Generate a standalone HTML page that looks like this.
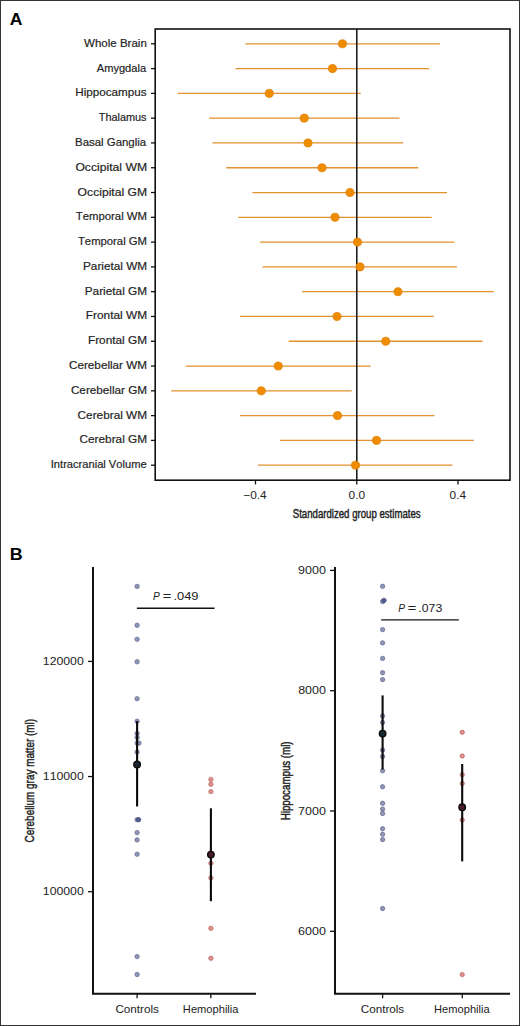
<!DOCTYPE html>
<html><head><meta charset="utf-8"><style>
html,body{margin:0;padding:0;background:#fff}
body{width:520px;height:1026px;overflow:hidden;position:relative}
svg{position:absolute;left:0;top:0;font-family:"Liberation Sans",sans-serif;font-kerning:none}
</style></head><body>
<svg width="520" height="1026" viewBox="0 0 520 1026">
<rect x="0.5" y="0.5" width="519" height="1025" fill="#fff" stroke="#333" stroke-width="1"/>
<line x1="245.5" y1="43.80" x2="440" y2="43.80" stroke="#E3902E" stroke-width="1.3"/>
<line x1="235.5" y1="68.59" x2="429.25" y2="68.59" stroke="#E3902E" stroke-width="1.3"/>
<line x1="177.5" y1="93.38" x2="360.75" y2="93.38" stroke="#E3902E" stroke-width="1.3"/>
<line x1="209.25" y1="118.16" x2="399.5" y2="118.16" stroke="#E3902E" stroke-width="1.3"/>
<line x1="212.5" y1="142.95" x2="403.25" y2="142.95" stroke="#E3902E" stroke-width="1.3"/>
<line x1="226.25" y1="167.74" x2="418.25" y2="167.74" stroke="#E3902E" stroke-width="1.3"/>
<line x1="252.5" y1="192.53" x2="447" y2="192.53" stroke="#E3902E" stroke-width="1.3"/>
<line x1="238.25" y1="217.32" x2="431.75" y2="217.32" stroke="#E3902E" stroke-width="1.3"/>
<line x1="260" y1="242.11" x2="454.5" y2="242.11" stroke="#E3902E" stroke-width="1.3"/>
<line x1="262.5" y1="266.89" x2="457" y2="266.89" stroke="#E3902E" stroke-width="1.3"/>
<line x1="302" y1="291.68" x2="493.75" y2="291.68" stroke="#E3902E" stroke-width="1.3"/>
<line x1="240" y1="316.47" x2="433.75" y2="316.47" stroke="#E3902E" stroke-width="1.3"/>
<line x1="288.75" y1="341.26" x2="482.5" y2="341.26" stroke="#E3902E" stroke-width="1.3"/>
<line x1="185.75" y1="366.05" x2="370.75" y2="366.05" stroke="#E3902E" stroke-width="1.3"/>
<line x1="171.25" y1="390.84" x2="351.75" y2="390.84" stroke="#E3902E" stroke-width="1.3"/>
<line x1="240" y1="415.62" x2="434.5" y2="415.62" stroke="#E3902E" stroke-width="1.3"/>
<line x1="280" y1="440.41" x2="473.75" y2="440.41" stroke="#E3902E" stroke-width="1.3"/>
<line x1="258" y1="465.20" x2="452.5" y2="465.20" stroke="#E3902E" stroke-width="1.3"/>
<line x1="356.8" y1="29.0" x2="356.8" y2="480.2" stroke="#111" stroke-width="1.5"/>
<circle cx="342.5" cy="43.80" r="4.05" fill="#F08C00" stroke="#DD7D00" stroke-width="0.7"/>
<circle cx="332.5" cy="68.59" r="4.05" fill="#F08C00" stroke="#DD7D00" stroke-width="0.7"/>
<circle cx="269.25" cy="93.38" r="4.05" fill="#F08C00" stroke="#DD7D00" stroke-width="0.7"/>
<circle cx="304.25" cy="118.16" r="4.05" fill="#F08C00" stroke="#DD7D00" stroke-width="0.7"/>
<circle cx="308" cy="142.95" r="4.05" fill="#F08C00" stroke="#DD7D00" stroke-width="0.7"/>
<circle cx="322" cy="167.74" r="4.05" fill="#F08C00" stroke="#DD7D00" stroke-width="0.7"/>
<circle cx="350" cy="192.53" r="4.05" fill="#F08C00" stroke="#DD7D00" stroke-width="0.7"/>
<circle cx="335" cy="217.32" r="4.05" fill="#F08C00" stroke="#DD7D00" stroke-width="0.7"/>
<circle cx="357.5" cy="242.11" r="4.05" fill="#F08C00" stroke="#DD7D00" stroke-width="0.7"/>
<circle cx="360" cy="266.89" r="4.05" fill="#F08C00" stroke="#DD7D00" stroke-width="0.7"/>
<circle cx="398" cy="291.68" r="4.05" fill="#F08C00" stroke="#DD7D00" stroke-width="0.7"/>
<circle cx="337" cy="316.47" r="4.05" fill="#F08C00" stroke="#DD7D00" stroke-width="0.7"/>
<circle cx="385.75" cy="341.26" r="4.05" fill="#F08C00" stroke="#DD7D00" stroke-width="0.7"/>
<circle cx="278.25" cy="366.05" r="4.05" fill="#F08C00" stroke="#DD7D00" stroke-width="0.7"/>
<circle cx="261.25" cy="390.84" r="4.05" fill="#F08C00" stroke="#DD7D00" stroke-width="0.7"/>
<circle cx="337.5" cy="415.62" r="4.05" fill="#F08C00" stroke="#DD7D00" stroke-width="0.7"/>
<circle cx="376.5" cy="440.41" r="4.05" fill="#F08C00" stroke="#DD7D00" stroke-width="0.7"/>
<circle cx="355.5" cy="465.20" r="4.05" fill="#F08C00" stroke="#DD7D00" stroke-width="0.7"/>
<rect x="155.2" y="29.0" width="354.8" height="451.2" fill="none" stroke="#111" stroke-width="1.6"/>
<line x1="151.0" y1="43.80" x2="155.2" y2="43.80" stroke="#111" stroke-width="1.3"/>
<text x="84.05" y="46.80" font-size="11.5" font-weight="normal" font-style="normal" textLength="62.80" lengthAdjust="spacingAndGlyphs" fill="#222" stroke="#2a2a2a" stroke-width="0.2">Whole Brain</text>
<line x1="151.0" y1="68.59" x2="155.2" y2="68.59" stroke="#111" stroke-width="1.3"/>
<text x="96.78" y="71.59" font-size="11.5" font-weight="normal" font-style="normal" textLength="49.32" lengthAdjust="spacingAndGlyphs" fill="#222" stroke="#2a2a2a" stroke-width="0.2">Amygdala</text>
<line x1="151.0" y1="93.38" x2="155.2" y2="93.38" stroke="#111" stroke-width="1.3"/>
<text x="75.24" y="96.38" font-size="11.5" font-weight="normal" font-style="normal" textLength="71.28" lengthAdjust="spacingAndGlyphs" fill="#222" stroke="#2a2a2a" stroke-width="0.2">Hippocampus</text>
<line x1="151.0" y1="118.16" x2="155.2" y2="118.16" stroke="#111" stroke-width="1.3"/>
<text x="98.76" y="121.16" font-size="11.5" font-weight="normal" font-style="normal" textLength="47.74" lengthAdjust="spacingAndGlyphs" fill="#222" stroke="#2a2a2a" stroke-width="0.2">Thalamus</text>
<line x1="151.0" y1="142.95" x2="155.2" y2="142.95" stroke="#111" stroke-width="1.3"/>
<text x="75.06" y="145.95" font-size="11.5" font-weight="normal" font-style="normal" textLength="71.04" lengthAdjust="spacingAndGlyphs" fill="#222" stroke="#2a2a2a" stroke-width="0.2">Basal Ganglia</text>
<line x1="151.0" y1="167.74" x2="155.2" y2="167.74" stroke="#111" stroke-width="1.3"/>
<text x="75.42" y="170.74" font-size="11.5" font-weight="normal" font-style="normal" textLength="71.67" lengthAdjust="spacingAndGlyphs" fill="#222" stroke="#2a2a2a" stroke-width="0.2">Occipital WM</text>
<line x1="151.0" y1="192.53" x2="155.2" y2="192.53" stroke="#111" stroke-width="1.3"/>
<text x="77.63" y="195.53" font-size="11.5" font-weight="normal" font-style="normal" textLength="69.47" lengthAdjust="spacingAndGlyphs" fill="#222" stroke="#2a2a2a" stroke-width="0.2">Occipital GM</text>
<line x1="151.0" y1="217.32" x2="155.2" y2="217.32" stroke="#111" stroke-width="1.3"/>
<text x="75.74" y="220.32" font-size="11.5" font-weight="normal" font-style="normal" textLength="71.29" lengthAdjust="spacingAndGlyphs" fill="#222" stroke="#2a2a2a" stroke-width="0.2">Temporal WM</text>
<line x1="151.0" y1="242.11" x2="155.2" y2="242.11" stroke="#111" stroke-width="1.3"/>
<text x="77.95" y="245.11" font-size="11.5" font-weight="normal" font-style="normal" textLength="69.08" lengthAdjust="spacingAndGlyphs" fill="#222" stroke="#2a2a2a" stroke-width="0.2">Temporal GM</text>
<line x1="151.0" y1="266.89" x2="155.2" y2="266.89" stroke="#111" stroke-width="1.3"/>
<text x="83.04" y="269.89" font-size="11.5" font-weight="normal" font-style="normal" textLength="64.03" lengthAdjust="spacingAndGlyphs" fill="#222" stroke="#2a2a2a" stroke-width="0.2">Parietal WM</text>
<line x1="151.0" y1="291.68" x2="155.2" y2="291.68" stroke="#111" stroke-width="1.3"/>
<text x="84.73" y="294.68" font-size="11.5" font-weight="normal" font-style="normal" textLength="62.34" lengthAdjust="spacingAndGlyphs" fill="#222" stroke="#2a2a2a" stroke-width="0.2">Parietal GM</text>
<line x1="151.0" y1="316.47" x2="155.2" y2="316.47" stroke="#111" stroke-width="1.3"/>
<text x="85.73" y="319.47" font-size="11.5" font-weight="normal" font-style="normal" textLength="61.35" lengthAdjust="spacingAndGlyphs" fill="#222" stroke="#2a2a2a" stroke-width="0.2">Frontal WM</text>
<line x1="151.0" y1="341.26" x2="155.2" y2="341.26" stroke="#111" stroke-width="1.3"/>
<text x="87.93" y="344.26" font-size="11.5" font-weight="normal" font-style="normal" textLength="59.14" lengthAdjust="spacingAndGlyphs" fill="#222" stroke="#2a2a2a" stroke-width="0.2">Frontal GM</text>
<line x1="151.0" y1="366.05" x2="155.2" y2="366.05" stroke="#111" stroke-width="1.3"/>
<text x="69.01" y="369.05" font-size="11.5" font-weight="normal" font-style="normal" textLength="78.05" lengthAdjust="spacingAndGlyphs" fill="#222" stroke="#2a2a2a" stroke-width="0.2">Cerebellar WM</text>
<line x1="151.0" y1="390.84" x2="155.2" y2="390.84" stroke="#111" stroke-width="1.3"/>
<text x="70.91" y="393.84" font-size="11.5" font-weight="normal" font-style="normal" textLength="76.16" lengthAdjust="spacingAndGlyphs" fill="#222" stroke="#2a2a2a" stroke-width="0.2">Cerebellar GM</text>
<line x1="151.0" y1="415.62" x2="155.2" y2="415.62" stroke="#111" stroke-width="1.3"/>
<text x="77.60" y="418.62" font-size="11.5" font-weight="normal" font-style="normal" textLength="69.47" lengthAdjust="spacingAndGlyphs" fill="#222" stroke="#2a2a2a" stroke-width="0.2">Cerebral WM</text>
<line x1="151.0" y1="440.41" x2="155.2" y2="440.41" stroke="#111" stroke-width="1.3"/>
<text x="79.50" y="443.41" font-size="11.5" font-weight="normal" font-style="normal" textLength="67.57" lengthAdjust="spacingAndGlyphs" fill="#222" stroke="#2a2a2a" stroke-width="0.2">Cerebral GM</text>
<line x1="151.0" y1="465.20" x2="155.2" y2="465.20" stroke="#111" stroke-width="1.3"/>
<text x="50.77" y="468.20" font-size="11.5" font-weight="normal" font-style="normal" textLength="95.82" lengthAdjust="spacingAndGlyphs" fill="#222" stroke="#2a2a2a" stroke-width="0.2">Intracranial Volume</text>
<line x1="255.5" y1="480.2" x2="255.5" y2="484.4" stroke="#111" stroke-width="1.3"/>
<line x1="356.8" y1="480.2" x2="356.8" y2="484.4" stroke="#111" stroke-width="1.3"/>
<line x1="458.0" y1="480.2" x2="458.0" y2="484.4" stroke="#111" stroke-width="1.3"/>
<text x="243.32" y="498.80" font-size="11" font-weight="normal" font-style="normal" textLength="23.33" lengthAdjust="spacingAndGlyphs" fill="#222">−0.4</text>
<text x="348.54" y="498.80" font-size="11" font-weight="normal" font-style="normal" textLength="16.53" lengthAdjust="spacingAndGlyphs" fill="#222">0.0</text>
<text x="449.64" y="498.80" font-size="11" font-weight="normal" font-style="normal" textLength="16.41" lengthAdjust="spacingAndGlyphs" fill="#222">0.4</text>
<text x="292.76" y="518.40" font-size="13.3" font-weight="normal" font-style="normal" textLength="127.88" lengthAdjust="spacingAndGlyphs" fill="#222" stroke="#222" stroke-width="0.45">Standardized group estimates</text>
<text x="9.76" y="24.70" font-size="16.5" font-weight="bold" font-style="normal" textLength="12.70" lengthAdjust="spacingAndGlyphs" fill="#000">A</text>
<text x="9.80" y="559.80" font-size="16.5" font-weight="bold" font-style="normal" textLength="12.91" lengthAdjust="spacingAndGlyphs" fill="#000">B</text>
<path d="M93 567 V993.8 H256" fill="none" stroke="#111" stroke-width="2"/>
<path d="M335 567 V993.8 H510" fill="none" stroke="#111" stroke-width="2"/>
<line x1="88.0" y1="661.4" x2="93" y2="661.4" stroke="#111" stroke-width="1.3"/>
<text x="42.87" y="665.00" font-size="11" font-weight="normal" font-style="normal" textLength="40.91" lengthAdjust="spacingAndGlyphs" fill="#222">120000</text>
<line x1="88.0" y1="776.55" x2="93" y2="776.55" stroke="#111" stroke-width="1.3"/>
<text x="42.87" y="780.15" font-size="11" font-weight="normal" font-style="normal" textLength="40.91" lengthAdjust="spacingAndGlyphs" fill="#222">110000</text>
<line x1="88.0" y1="891.7" x2="93" y2="891.7" stroke="#111" stroke-width="1.3"/>
<text x="42.87" y="895.30" font-size="11" font-weight="normal" font-style="normal" textLength="40.91" lengthAdjust="spacingAndGlyphs" fill="#222">100000</text>
<line x1="330.0" y1="570.4" x2="335" y2="570.4" stroke="#111" stroke-width="1.3"/>
<text x="298.11" y="574.00" font-size="11" font-weight="normal" font-style="normal" textLength="27.77" lengthAdjust="spacingAndGlyphs" fill="#222">9000</text>
<line x1="330.0" y1="690.7" x2="335" y2="690.7" stroke="#111" stroke-width="1.3"/>
<text x="298.16" y="694.30" font-size="11" font-weight="normal" font-style="normal" textLength="27.73" lengthAdjust="spacingAndGlyphs" fill="#222">8000</text>
<line x1="330.0" y1="811.0" x2="335" y2="811.0" stroke="#111" stroke-width="1.3"/>
<text x="298.06" y="814.60" font-size="11" font-weight="normal" font-style="normal" textLength="27.83" lengthAdjust="spacingAndGlyphs" fill="#222">7000</text>
<line x1="330.0" y1="931.3" x2="335" y2="931.3" stroke="#111" stroke-width="1.3"/>
<text x="298.06" y="934.90" font-size="11" font-weight="normal" font-style="normal" textLength="27.82" lengthAdjust="spacingAndGlyphs" fill="#222">6000</text>
<line x1="137.1" y1="993.8" x2="137.1" y2="998.3" stroke="#111" stroke-width="1.3"/>
<line x1="210.8" y1="993.8" x2="210.8" y2="998.3" stroke="#111" stroke-width="1.3"/>
<line x1="382.6" y1="993.8" x2="382.6" y2="998.3" stroke="#111" stroke-width="1.3"/>
<line x1="462.3" y1="993.8" x2="462.3" y2="998.3" stroke="#111" stroke-width="1.3"/>
<text x="115.41" y="1012.90" font-size="11" font-weight="normal" font-style="normal" textLength="43.52" lengthAdjust="spacingAndGlyphs" fill="#222">Controls</text>
<text x="182.89" y="1012.90" font-size="11" font-weight="normal" font-style="normal" textLength="55.61" lengthAdjust="spacingAndGlyphs" fill="#222">Hemophilia</text>
<text x="360.71" y="1012.90" font-size="11" font-weight="normal" font-style="normal" textLength="43.52" lengthAdjust="spacingAndGlyphs" fill="#222">Controls</text>
<text x="434.09" y="1012.90" font-size="11" font-weight="normal" font-style="normal" textLength="55.61" lengthAdjust="spacingAndGlyphs" fill="#222">Hemophilia</text>
<text transform="rotate(-90)" x="-842.40" y="34.40" font-size="13.2" font-weight="normal" textLength="123.52" lengthAdjust="spacingAndGlyphs" fill="#222" stroke="#222" stroke-width="0.45">Cerebellum gray matter (ml)</text>
<text transform="rotate(-90)" x="-820.30" y="289.70" font-size="12.9" font-weight="normal" textLength="78.90" lengthAdjust="spacingAndGlyphs" fill="#222" stroke="#222" stroke-width="0.45">Hippocampus (ml)</text>
<line x1="136.9" y1="608.2" x2="214.6" y2="608.2" stroke="#111" stroke-width="1.4"/>
<line x1="381.2" y1="619.9" x2="458.8" y2="619.9" stroke="#111" stroke-width="1.4"/>
<text x="153.09" y="600.30" font-size="11" font-weight="normal" font-style="italic" textLength="6.78" lengthAdjust="spacingAndGlyphs" fill="#222">P</text>
<text x="162.78" y="600.30" font-size="11" font-weight="normal" font-style="normal" textLength="8.65" lengthAdjust="spacingAndGlyphs" fill="#222">=</text>
<text x="173.42" y="600.30" font-size="11" font-weight="normal" font-style="normal" textLength="25.09" lengthAdjust="spacingAndGlyphs" fill="#222">.049</text>
<text x="398.19" y="612.10" font-size="11" font-weight="normal" font-style="italic" textLength="6.78" lengthAdjust="spacingAndGlyphs" fill="#222">P</text>
<text x="407.88" y="612.10" font-size="11" font-weight="normal" font-style="normal" textLength="8.65" lengthAdjust="spacingAndGlyphs" fill="#222">=</text>
<text x="418.38" y="612.10" font-size="11" font-weight="normal" font-style="normal" textLength="23.86" lengthAdjust="spacingAndGlyphs" fill="#222">.073</text>
<circle cx="137.1" cy="586.4" r="2.2" fill="#8890b4" stroke="#5c6387" stroke-width="0.7" opacity="0.95"/>
<circle cx="137.1" cy="625.3" r="2.2" fill="#8890b4" stroke="#5c6387" stroke-width="0.7" opacity="0.95"/>
<circle cx="137.1" cy="639.3" r="2.2" fill="#8890b4" stroke="#5c6387" stroke-width="0.7" opacity="0.95"/>
<circle cx="137.1" cy="661.8" r="2.2" fill="#8890b4" stroke="#5c6387" stroke-width="0.7" opacity="0.95"/>
<circle cx="137.1" cy="698.7" r="2.2" fill="#8890b4" stroke="#5c6387" stroke-width="0.7" opacity="0.95"/>
<circle cx="137.1" cy="721.3" r="2.2" fill="#8890b4" stroke="#5c6387" stroke-width="0.7" opacity="0.95"/>
<circle cx="137.1" cy="733.4" r="2.2" fill="#8890b4" stroke="#5c6387" stroke-width="0.7" opacity="0.95"/>
<circle cx="137.1" cy="737.5" r="2.2" fill="#8890b4" stroke="#5c6387" stroke-width="0.7" opacity="0.95"/>
<circle cx="137.1" cy="743.1" r="2.2" fill="#8890b4" stroke="#5c6387" stroke-width="0.7" opacity="0.95"/>
<circle cx="139" cy="743.1" r="2.2" fill="#8890b4" stroke="#5c6387" stroke-width="0.7" opacity="0.95"/>
<circle cx="137.1" cy="752.1" r="2.2" fill="#8890b4" stroke="#5c6387" stroke-width="0.7" opacity="0.95"/>
<circle cx="137.1" cy="819.7" r="2.2" fill="#8890b4" stroke="#5c6387" stroke-width="0.7" opacity="0.95"/>
<circle cx="138.6" cy="819.7" r="2.2" fill="#4f5a8a" stroke="#3c4670" stroke-width="0.7" opacity="0.95"/>
<circle cx="137.1" cy="832.6" r="2.2" fill="#8890b4" stroke="#5c6387" stroke-width="0.7" opacity="0.95"/>
<circle cx="137.1" cy="839.9" r="2.2" fill="#8890b4" stroke="#5c6387" stroke-width="0.7" opacity="0.95"/>
<circle cx="137.1" cy="854.2" r="2.2" fill="#8890b4" stroke="#5c6387" stroke-width="0.7" opacity="0.95"/>
<circle cx="137.1" cy="956.6" r="2.2" fill="#8890b4" stroke="#5c6387" stroke-width="0.7" opacity="0.95"/>
<circle cx="137.1" cy="974.5" r="2.2" fill="#8890b4" stroke="#5c6387" stroke-width="0.7" opacity="0.95"/>
<circle cx="210.9" cy="779.4" r="2.2" fill="#de8b85" stroke="#b3625d" stroke-width="0.7" opacity="0.95"/>
<circle cx="210.9" cy="784.3" r="2.2" fill="#de8b85" stroke="#b3625d" stroke-width="0.7" opacity="0.95"/>
<circle cx="210.9" cy="791.6" r="2.2" fill="#de8b85" stroke="#b3625d" stroke-width="0.7" opacity="0.95"/>
<circle cx="210.9" cy="863.3" r="2.2" fill="#de8b85" stroke="#b3625d" stroke-width="0.7" opacity="0.95"/>
<circle cx="210.9" cy="877.9" r="2.2" fill="#de8b85" stroke="#b3625d" stroke-width="0.7" opacity="0.95"/>
<circle cx="210.9" cy="928.3" r="2.2" fill="#de8b85" stroke="#b3625d" stroke-width="0.7" opacity="0.95"/>
<circle cx="210.9" cy="958.3" r="2.2" fill="#de8b85" stroke="#b3625d" stroke-width="0.7" opacity="0.95"/>
<circle cx="382.6" cy="586.3" r="2.2" fill="#8890b4" stroke="#5c6387" stroke-width="0.7" opacity="0.95"/>
<circle cx="382.6" cy="601.6" r="2.2" fill="#8890b4" stroke="#5c6387" stroke-width="0.7" opacity="0.95"/>
<circle cx="384.0" cy="600.4" r="2.2" fill="#4f5a8a" stroke="#3c4670" stroke-width="0.7" opacity="0.95"/>
<circle cx="382.6" cy="629.6" r="2.2" fill="#8890b4" stroke="#5c6387" stroke-width="0.7" opacity="0.95"/>
<circle cx="382.6" cy="642.9" r="2.2" fill="#8890b4" stroke="#5c6387" stroke-width="0.7" opacity="0.95"/>
<circle cx="382.6" cy="658.4" r="2.2" fill="#8890b4" stroke="#5c6387" stroke-width="0.7" opacity="0.95"/>
<circle cx="382.6" cy="672.7" r="2.2" fill="#8890b4" stroke="#5c6387" stroke-width="0.7" opacity="0.95"/>
<circle cx="382.6" cy="679.6" r="2.2" fill="#8890b4" stroke="#5c6387" stroke-width="0.7" opacity="0.95"/>
<circle cx="382.6" cy="715.9" r="2.2" fill="#8890b4" stroke="#5c6387" stroke-width="0.7" opacity="0.95"/>
<circle cx="382.6" cy="722.5" r="2.2" fill="#8890b4" stroke="#5c6387" stroke-width="0.7" opacity="0.95"/>
<circle cx="382.6" cy="750.1" r="2.2" fill="#8890b4" stroke="#5c6387" stroke-width="0.7" opacity="0.95"/>
<circle cx="382.6" cy="756.5" r="2.2" fill="#8890b4" stroke="#5c6387" stroke-width="0.7" opacity="0.95"/>
<circle cx="382.6" cy="770.7" r="2.2" fill="#8890b4" stroke="#5c6387" stroke-width="0.7" opacity="0.95"/>
<circle cx="382.6" cy="786.8" r="2.2" fill="#8890b4" stroke="#5c6387" stroke-width="0.7" opacity="0.95"/>
<circle cx="382.6" cy="803.3" r="2.2" fill="#8890b4" stroke="#5c6387" stroke-width="0.7" opacity="0.95"/>
<circle cx="382.6" cy="809.1" r="2.2" fill="#8890b4" stroke="#5c6387" stroke-width="0.7" opacity="0.95"/>
<circle cx="382.6" cy="813.5" r="2.2" fill="#8890b4" stroke="#5c6387" stroke-width="0.7" opacity="0.95"/>
<circle cx="382.6" cy="828.7" r="2.2" fill="#8890b4" stroke="#5c6387" stroke-width="0.7" opacity="0.95"/>
<circle cx="382.6" cy="834.3" r="2.2" fill="#8890b4" stroke="#5c6387" stroke-width="0.7" opacity="0.95"/>
<circle cx="382.6" cy="839.6" r="2.2" fill="#8890b4" stroke="#5c6387" stroke-width="0.7" opacity="0.95"/>
<circle cx="382.6" cy="908.5" r="2.2" fill="#8890b4" stroke="#5c6387" stroke-width="0.7" opacity="0.95"/>
<circle cx="462.2" cy="732.3" r="2.2" fill="#de8b85" stroke="#b3625d" stroke-width="0.7" opacity="0.95"/>
<circle cx="462.2" cy="756" r="2.2" fill="#de8b85" stroke="#b3625d" stroke-width="0.7" opacity="0.95"/>
<circle cx="462.2" cy="774.7" r="2.2" fill="#de8b85" stroke="#b3625d" stroke-width="0.7" opacity="0.95"/>
<circle cx="462.2" cy="783.5" r="2.2" fill="#de8b85" stroke="#b3625d" stroke-width="0.7" opacity="0.95"/>
<circle cx="462.2" cy="807.2" r="2.2" fill="#de8b85" stroke="#b3625d" stroke-width="0.7" opacity="0.95"/>
<circle cx="462.2" cy="820" r="2.2" fill="#de8b85" stroke="#b3625d" stroke-width="0.7" opacity="0.95"/>
<circle cx="462.2" cy="974.6" r="2.2" fill="#de8b85" stroke="#b3625d" stroke-width="0.7" opacity="0.95"/>
<line x1="137.1" y1="721.1" x2="137.1" y2="806.5" stroke="#0a0a0a" stroke-width="2.1"/>
<circle cx="137.1" cy="764.4" r="3.25" fill="#1a2633" stroke="#0a0a0a" stroke-width="1.4"/>
<line x1="210.9" y1="808.3" x2="210.9" y2="901.2" stroke="#0a0a0a" stroke-width="2.1"/>
<circle cx="210.9" cy="854.6" r="3.25" fill="#4a1a28" stroke="#0a0a0a" stroke-width="1.4"/>
<line x1="382.6" y1="695.4" x2="382.6" y2="769.4" stroke="#0a0a0a" stroke-width="2.1"/>
<circle cx="382.6" cy="733.6" r="3.25" fill="#182a36" stroke="#0a0a0a" stroke-width="1.4"/>
<line x1="462.2" y1="764.0" x2="462.2" y2="861.4" stroke="#0a0a0a" stroke-width="2.1"/>
<circle cx="462.2" cy="807.2" r="3.25" fill="#4a1a28" stroke="#0a0a0a" stroke-width="1.4"/>
</svg>
</body></html>
